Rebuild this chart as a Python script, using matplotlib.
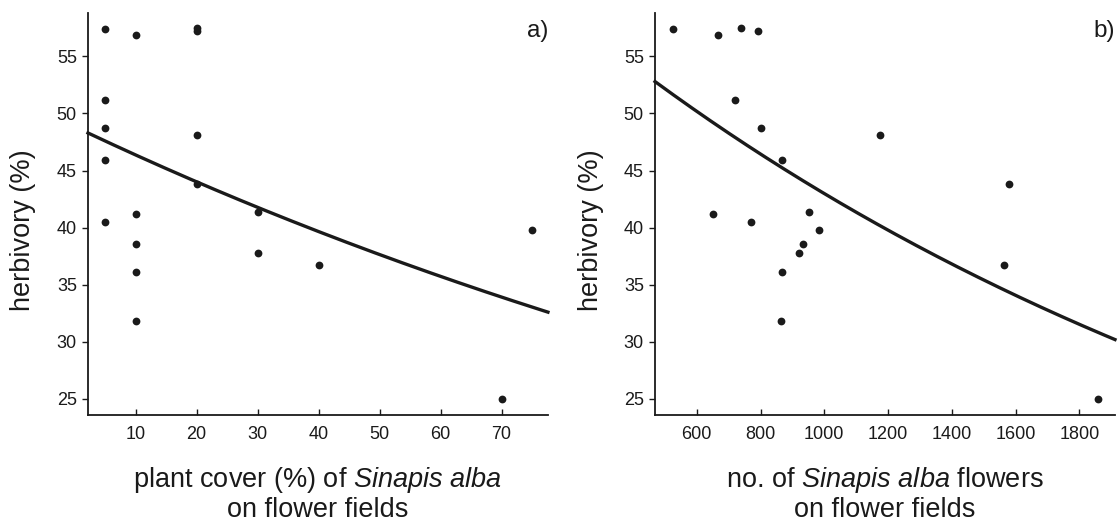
import numpy as np
import matplotlib
matplotlib.use("Agg")
import matplotlib.pyplot as plt

plt.rcParams['font.family'] = ['Liberation Sans', 'DejaVu Sans']
plt.rcParams['mathtext.fontset'] = 'custom'
plt.rcParams['mathtext.rm'] = 'Liberation Sans'
plt.rcParams['mathtext.it'] = 'Liberation Sans:italic'

ink = '#1a1a1a'

# herbivory (%) per flower field, same sites in both panels
herbivory = [57.4, 51.2, 48.7, 45.9, 40.5,
             56.9, 41.2, 38.6, 36.1, 31.8,
             57.5, 57.2, 48.1, 43.8,
             41.4, 37.8, 36.7, 25.0, 39.8]
# plant cover (%) of Sinapis alba
cover = [5, 5, 5, 5, 5,
         10, 10, 10, 10, 10,
         20, 20, 20, 20,
         30, 30, 40, 70, 75]
# number of Sinapis alba flowers
flowers = [524, 721, 802, 866, 769,
           665, 650, 934, 866, 863,
           740, 793, 1174, 1581,
           952, 920, 1565, 1860, 984]

# fitted curves: y = a * exp(b * x)
fit_a = {'cover': 48.85, 'flowers': 63.3}
fit_b = {'cover': -0.00521, 'flowers': -0.000387}

xlims = {'cover': (2.2, 77.6), 'flowers': (469, 1912)}
ylim = (23.6, 58.8)
yticks = [25, 30, 35, 40, 45, 50, 55]
xticks = {'cover': [10, 20, 30, 40, 50, 60, 70],
          'flowers': [600, 800, 1000, 1200, 1400, 1600, 1800]}
xlabels = {'cover': 'plant cover (%) of $\\it{Sinapis\\ alba}$\non flower fields',
           'flowers': 'no. of $\\it{Sinapis\\ alba}$ flowers\non flower fields'}
tags = {'cover': 'a)', 'flowers': 'b)'}

fig = plt.figure(figsize=(11.18, 5.21), dpi=100)
axes = {'cover': fig.add_axes([0.0787, 0.2035, 0.4114, 0.7716]),
        'flowers': fig.add_axes([0.5859, 0.2035, 0.4114, 0.7716])}
xdata = {'cover': cover, 'flowers': flowers}

for key, ax in axes.items():
    ax.plot(xdata[key], herbivory, 'o', color=ink, ms=5.6, mec='none', zorder=3)
    xs = np.linspace(*xlims[key], 200)
    ax.plot(xs, fit_a[key] * np.exp(fit_b[key] * xs), color=ink, lw=2.4, clip_on=False)
    ax.set_xlim(xlims[key])
    ax.set_ylim(ylim)
    ax.set_yticks(yticks)
    ax.set_xticks(xticks[key])
    for s in ['top', 'right']:
        ax.spines[s].set_visible(False)
    for s in ['left', 'bottom']:
        ax.spines[s].set_linewidth(1.3)
        ax.spines[s].set_color(ink)
    ax.tick_params(axis='y', direction='out', length=4, width=1, color=ink,
                   labelsize=13, labelcolor=ink, pad=4)
    ax.tick_params(axis='x', direction='in', length=4, width=1, color=ink,
                   labelsize=13, labelcolor=ink, pad=8)
    ax.set_ylabel('herbivory (%)', fontsize=19.5, color=ink)
    ax.yaxis.set_label_coords(-0.112, 0.46)
    ax.set_xlabel(xlabels[key], fontsize=19.5, color=ink, linespacing=1.1)
    ax.xaxis.set_label_coords(0.5, -0.125)
    ax.text(1.0, 0.955, tags[key], transform=ax.transAxes, ha='right', va='center',
            fontsize=17.5, color=ink)

fig.savefig('out.png', dpi=100)
